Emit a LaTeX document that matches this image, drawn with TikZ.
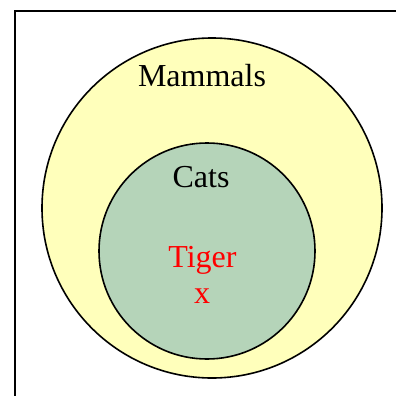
\documentclass[tikz,border=0pt]{standalone}
\usepackage{fontspec}
\setmainfont{Liberation Serif}
\usepackage{xcolor}
\usetikzlibrary{positioning}
\definecolor{mammalyellow}{RGB}{255,255,187}
\definecolor{catgreen}{RGB}{181,212,185}
\tikzset{
  setcircle/.style={circle, draw=black, line width=1.6pt, inner sep=0pt},
  setlabel/.style={anchor=base, font=\fontsize{32}{38}\selectfont}
}

\begin{document}
\begin{tikzpicture}[x=1pt, y=-1pt]
		\useasboundingbox (0, 0) rectangle (396, 396);
		\coordinate (framebl) at (15, 396);
		\coordinate (frametl) at (15, 11.5);
		\coordinate (frametr) at (396, 11.5);
		\draw[black, line width=2pt] (framebl)--(frametl)--(frametr);
		\node[setcircle, fill=mammalyellow, minimum size=340pt] (mammalset) at (212, 208) {};
		\node[setcircle, fill=catgreen, minimum size=216pt] (catset) at (207, 251) {};
		\node[setlabel] (mammals) at (202, 86) {Mammals};
		\node[setlabel] (cats) at (201, 187) {Cats};
		\node[setlabel, text=red] (tiger) at (202.5, 267) {Tiger};
		\node[setlabel, text=red] (tigermark) at (202, 303) {x};
\end{tikzpicture}
\end{document}
